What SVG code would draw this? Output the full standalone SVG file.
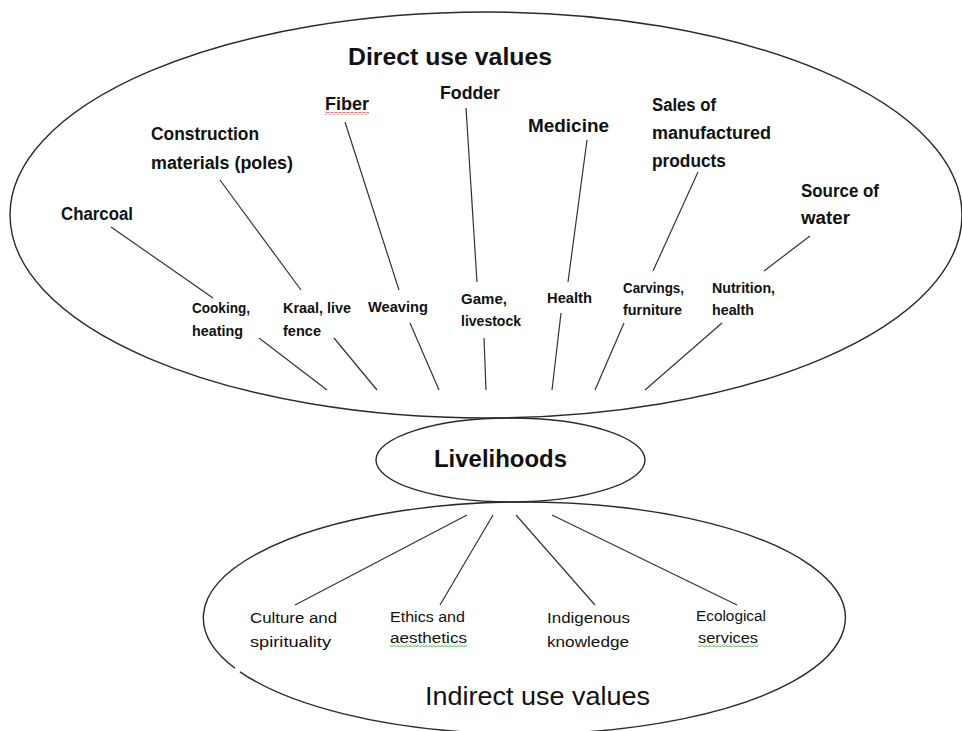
<svg xmlns="http://www.w3.org/2000/svg" width="962" height="731" viewBox="0 0 962 731">
<style>
  .ell { fill: none; stroke: #2a2a2a; stroke-width: 1.4; }
  .con line { stroke: #333; stroke-width: 1.2; }
  text { font-family: "Liberation Sans", Arial, sans-serif; fill: #111; }
  .title { font-size: 24px; font-weight: bold; }
  .cat { font-size: 17.5px; font-weight: bold; }
  .sub { font-size: 14px; font-weight: bold; }
  .bot { font-size: 15.5px; }
  .ind { font-size: 25px; }
  .liv { font-size: 24px; font-weight: bold; }
</style>
<defs>
  <pattern id="sqR" width="4" height="3" patternUnits="userSpaceOnUse">
    <path d="M0 2.2 L2 0.6 L4 2.2" fill="none" stroke="#e02020" stroke-width="0.8"/>
  </pattern>
  <pattern id="sqG" width="4" height="3" patternUnits="userSpaceOnUse">
    <path d="M0 2.2 L2 0.6 L4 2.2" fill="none" stroke="#2a9a2a" stroke-width="0.8"/>
  </pattern>
</defs>
<rect width="962" height="731" fill="#ffffff"/>

<g id="direct-use-values">
  <ellipse class="ell" cx="486" cy="215" rx="476" ry="203"/>
  <text class="title" x="348" y="65" textLength="204" lengthAdjust="spacingAndGlyphs">Direct use values</text>
</g>

<g id="livelihoods">
  <ellipse class="ell" cx="510.5" cy="460" rx="134.5" ry="42"/>
  <text class="liv" x="434" y="467" textLength="133" lengthAdjust="spacingAndGlyphs">Livelihoods</text>
</g>

<g id="indirect-use-values">
  <path class="ell" d="M235 668.2 A321 116 0 1 1 240 671.8"/>
  <text class="ind" x="425" y="705" textLength="225" lengthAdjust="spacingAndGlyphs">Indirect use values</text>
</g>

<g id="charcoal"><text class="cat" x="61" y="220" textLength="72" lengthAdjust="spacingAndGlyphs">Charcoal</text></g>
<g id="construction">
  <text class="cat" x="151" y="140" textLength="108" lengthAdjust="spacingAndGlyphs">Construction</text>
  <text class="cat" x="151" y="169" textLength="142" lengthAdjust="spacingAndGlyphs">materials (poles)</text>
</g>
<g id="fiber">
  <text class="cat" x="325" y="110" textLength="44" lengthAdjust="spacingAndGlyphs" style="font-size:18.5px">Fiber</text>
  <rect x="325" y="112" width="44" height="3" fill="url(#sqR)"/>
</g>
<g id="fodder"><text class="cat" x="440" y="99" textLength="60" lengthAdjust="spacingAndGlyphs">Fodder</text></g>
<g id="medicine"><text class="cat" x="528" y="132" textLength="81" lengthAdjust="spacingAndGlyphs" style="font-size:18.5px">Medicine</text></g>
<g id="sales">
  <text class="cat" x="652" y="111" textLength="64" lengthAdjust="spacingAndGlyphs">Sales of</text>
  <text class="cat" x="652" y="139" textLength="119" lengthAdjust="spacingAndGlyphs">manufactured</text>
  <text class="cat" x="652" y="167" textLength="74" lengthAdjust="spacingAndGlyphs">products</text>
</g>
<g id="source-of-water">
  <text class="cat" x="801" y="197" textLength="78" lengthAdjust="spacingAndGlyphs">Source of</text>
  <text class="cat" x="801" y="224" textLength="49" lengthAdjust="spacingAndGlyphs">water</text>
</g>

<g id="cooking">
  <text class="sub" x="192" y="313" textLength="58" lengthAdjust="spacingAndGlyphs">Cooking,</text>
  <text class="sub" x="192" y="336" textLength="51" lengthAdjust="spacingAndGlyphs">heating</text>
</g>
<g id="kraal">
  <text class="sub" x="283" y="313" textLength="68" lengthAdjust="spacingAndGlyphs">Kraal, live</text>
  <text class="sub" x="283" y="336" textLength="38" lengthAdjust="spacingAndGlyphs">fence</text>
</g>
<g id="weaving"><text class="sub" x="368" y="312" textLength="60" lengthAdjust="spacingAndGlyphs">Weaving</text></g>
<g id="game">
  <text class="sub" x="461" y="304" textLength="46" lengthAdjust="spacingAndGlyphs">Game,</text>
  <text class="sub" x="461" y="326" textLength="60" lengthAdjust="spacingAndGlyphs">livestock</text>
</g>
<g id="health"><text class="sub" x="547" y="303" textLength="45" lengthAdjust="spacingAndGlyphs">Health</text></g>
<g id="carvings">
  <text class="sub" x="623" y="293" textLength="61" lengthAdjust="spacingAndGlyphs">Carvings,</text>
  <text class="sub" x="623" y="315" textLength="59" lengthAdjust="spacingAndGlyphs">furniture</text>
</g>
<g id="nutrition">
  <text class="sub" x="712" y="293" textLength="63" lengthAdjust="spacingAndGlyphs">Nutrition,</text>
  <text class="sub" x="712" y="315" textLength="42" lengthAdjust="spacingAndGlyphs">health</text>
</g>

<g id="culture">
  <text class="bot" x="250" y="623" textLength="87" lengthAdjust="spacingAndGlyphs">Culture and</text>
  <text class="bot" x="250" y="647" textLength="81" lengthAdjust="spacingAndGlyphs">spirituality</text>
</g>
<g id="ethics">
  <text class="bot" x="390" y="622" textLength="75" lengthAdjust="spacingAndGlyphs">Ethics and</text>
  <text class="bot" x="390" y="643" textLength="77" lengthAdjust="spacingAndGlyphs">aesthetics</text>
  <rect x="390" y="644" width="77" height="3" fill="url(#sqG)"/>
</g>
<g id="indigenous">
  <text class="bot" x="547" y="623" textLength="83" lengthAdjust="spacingAndGlyphs">Indigenous</text>
  <text class="bot" x="547" y="647" textLength="82" lengthAdjust="spacingAndGlyphs">knowledge</text>
</g>
<g id="ecological">
  <text class="bot" x="696" y="621" textLength="70" lengthAdjust="spacingAndGlyphs">Ecological</text>
  <text class="bot" x="698" y="643" textLength="60" lengthAdjust="spacingAndGlyphs">services</text>
  <rect x="698" y="644" width="60" height="3" fill="url(#sqG)"/>
</g>

<g id="connectors" class="con">
  <line x1="111" y1="227" x2="213" y2="298"/>
  <line x1="259" y1="338" x2="327" y2="390"/>
  <line x1="220" y1="180" x2="301" y2="290"/>
  <line x1="334" y1="338" x2="377" y2="390"/>
  <line x1="345" y1="122" x2="399" y2="290"/>
  <line x1="410" y1="323" x2="439" y2="390"/>
  <line x1="466" y1="108" x2="477" y2="282"/>
  <line x1="484" y1="338" x2="486" y2="390"/>
  <line x1="587" y1="140" x2="568" y2="282"/>
  <line x1="561" y1="313" x2="552" y2="390"/>
  <line x1="698" y1="172" x2="653" y2="271"/>
  <line x1="624" y1="323" x2="595" y2="390"/>
  <line x1="810" y1="236" x2="764" y2="271"/>
  <line x1="722" y1="323" x2="645" y2="390"/>
  <line x1="467" y1="515" x2="295" y2="605"/>
  <line x1="493" y1="515" x2="440" y2="605"/>
  <line x1="516" y1="515" x2="595" y2="605"/>
  <line x1="552" y1="515" x2="737" y2="605"/>
</g>
</svg>
